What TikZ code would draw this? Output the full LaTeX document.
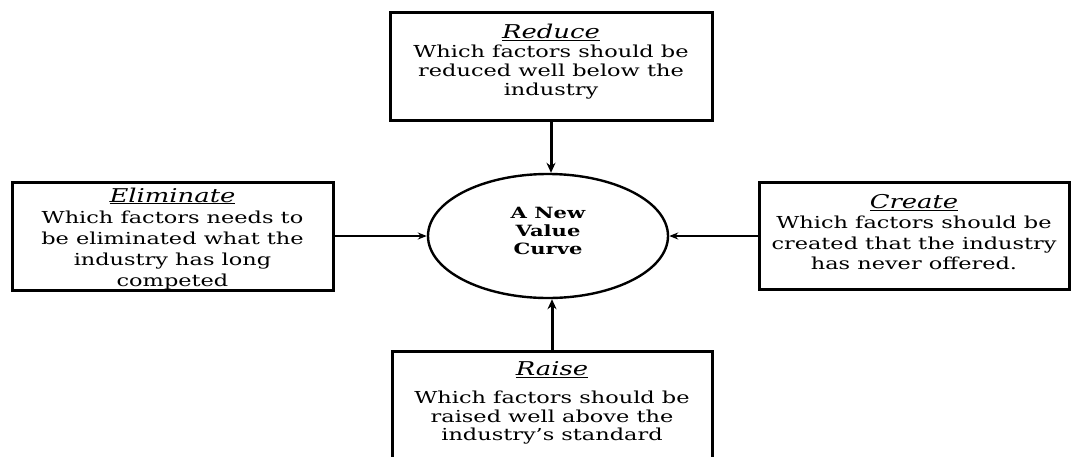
\documentclass[tikz,border=0pt]{standalone}
\usepackage{fontspec}
\setmainfont{DejaVu Serif}[FakeStretch=1.36]
\usetikzlibrary{arrows.meta,shapes.geometric}
\newcommand\boxtitle[1]{{\fontsize{19}{19}\selectfont\underline{\textit{#1}}}}
\begin{document}
\begin{tikzpicture}[x=1pt,y=-1pt,
  box/.style={draw=black,line width=3pt,rectangle,inner sep=0pt},
  txt/.style={align=center,inner sep=0pt},
  ctr/.style={draw=black,line width=2.4pt,ellipse,minimum width=240pt,minimum height=124pt,inner sep=0pt},
  ctrtxt/.style={align=center,inner sep=0pt,font=\fontsize{15.5}{18}\selectfont\bfseries},
  varr/.style={line width=3pt,-{Stealth[length=10pt,width=9pt]}},
  harr/.style={line width=1.6pt,-{Stealth[length=9pt,width=7pt]}}]
\clip (0,0) rectangle (1071,456);
\useasboundingbox (0,0) rectangle (1071,456);
% boxes
\node[box,minimum width=322pt,minimum height=108pt] (reduce) at (551,66) {};
\node[box,minimum width=321pt,minimum height=108pt] (elim) at (172.5,236) {};
\node[box,minimum width=310pt,minimum height=107pt] (create) at (914,236) {};
\node[box,minimum width=320pt,minimum height=130pt] (raise) at (552,416) {};
% texts
\node[txt,font=\fontsize{16.5}{19}\selectfont] (reducet) at (551,62) {\boxtitle{Reduce}\\Which factors should be\\reduced well below the\\industry};
\node[txt,font=\fontsize{16.5}{21}\selectfont] (elimt) at (172.5,238.5) {\boxtitle{Eliminate}\\Which factors needs to\\be eliminated what the\\industry has long\\competed};
\node[txt,font=\fontsize{16.5}{20.5}\selectfont] (createt) at (914,232) {\boxtitle{Create}\\Which factors should be\\created that the industry\\has never offered.};
\node[txt,anchor=north,font=\fontsize{16.5}{18.5}\selectfont] (raiset) at (552,361) {\boxtitle{Raise}\\[10pt]Which factors should be\\raised well above the\\industry's standard};
% centre
\node[ctr] (curve) at (548,236) {};
\node[ctrtxt] (curvet) at (548,230.5) {A New\\Value\\Curve};
% arrows
\draw[varr] (reduce.south) -- (reduce.south |- curve.north);
\draw[varr] (raise.north) -- (raise.north |- curve.south);
\draw[harr] (elim.east) -- (curve.west);
\draw[harr] (create.west) -- (curve.east);
\end{tikzpicture}
\end{document}
